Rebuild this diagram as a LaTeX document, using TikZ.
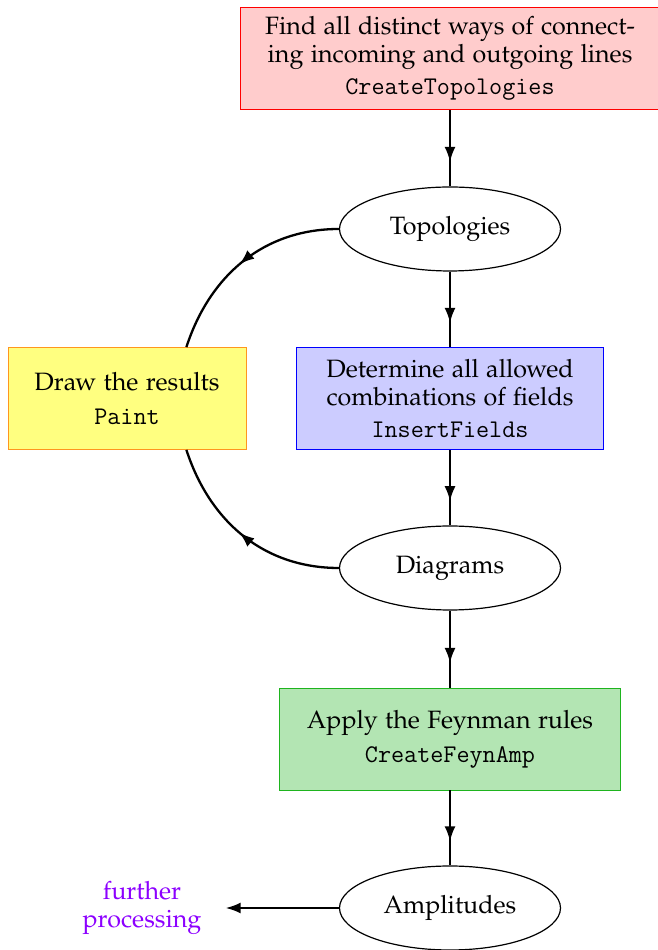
\documentclass[tikz,border=0pt]{standalone}
\usepackage[T1,TU]{fontenc}
\usepackage{mathpazo}
\usetikzlibrary{shapes.geometric,arrows.meta,decorations.markings}
\definecolor{boxred}{RGB}{255,204,204}
\definecolor{boxblue}{RGB}{204,204,255}
\definecolor{boxyellow}{RGB}{255,255,128}
\definecolor{boxgreen}{RGB}{179,229,179}
\definecolor{edgegreen}{RGB}{30,180,30}
\definecolor{edgeorange}{RGB}{255,150,30}
\definecolor{fpviolet}{RGB}{140,0,255}
\newcommand\myrm{\fontencoding{T1}\fontfamily{pplx}\fontsize{25.1}{28}\selectfont}
\newcommand\mytt{\fontencoding{TU}\fontfamily{lmtt}\fontsize{25.4}{28}\selectfont}
\begin{document}
\begin{tikzpicture}[x=1pt,y=1pt,
  box/.style={rectangle, draw, line width=0.8pt, align=center, minimum height=102pt, inner sep=0pt, font=\myrm},
  ell/.style={ellipse, draw, line width=1.2pt, minimum width=221pt, minimum height=84pt, inner sep=0pt, font=\myrm},
  flow/.style={line width=2.3pt, postaction={decorate},
    decoration={markings, mark=at position #1 with {\arrow{Latex[length=15pt,width=11pt]}}}},
  flow/.default=0.68
]
\useasboundingbox (0,0) rectangle (658,950);
\node[box, fill=boxred, draw=red, minimum width=420pt] (ct) at (450,891.5)
  {Find all distinct ways of connect-\\ing incoming and outgoing lines\\[4pt]\mytt CreateTopologies};
\node[ell] (topo) at (450,721) {Topologies};
\node[box, fill=boxblue, draw=blue, minimum width=307pt] (ins) at (450,551.5)
  {Determine all allowed\\combinations of fields\\[4pt]\mytt InsertFields};
\node[box, fill=boxyellow, draw=edgeorange, minimum width=238pt] (paint) at (127,551.5)
  {Draw the results\\[6pt]\mytt Paint};
\node[ell] (diag) at (450,382) {Diagrams};
\node[box, fill=boxgreen, draw=edgegreen, minimum width=341pt] (feyn) at (450,211)
  {Apply the Feynman rules\\[6pt]\mytt CreateFeynAmp};
\node[ell] (amp) at (450,42) {Amplitudes};
\node[font=\myrm, text=fpviolet, align=center, inner sep=0pt] (fp) at (142,42) {further\\processing};

\draw[flow] (ct.south) -- (topo.north);
\draw[flow] (topo.south) -- (ins.north);
\draw[flow] (ins.south) -- (diag.north);
\draw[flow] (diag.south) -- (feyn.north);
\draw[flow] (feyn.south) -- (amp.north);
\draw[flow=0.52] (topo.west) to[out=180,in=72] ([xshift=-60pt]paint.north east);
\draw[flow=0.52] (diag.west) to[out=180,in=-72] ([xshift=-60pt]paint.south east);
\draw[line width=2.3pt, -{Latex[length=15pt,width=11pt]}, shorten >=24pt] (amp.west) -- (fp.east);
\end{tikzpicture}
\end{document}
